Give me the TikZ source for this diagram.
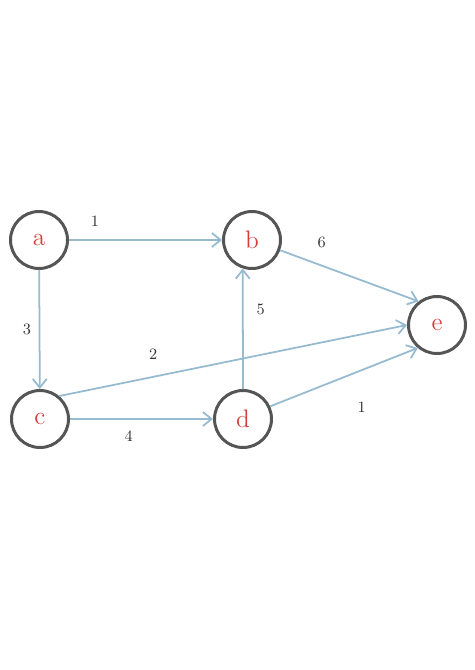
\documentclass[tikz,border=0pt]{standalone}
\usetikzlibrary{arrows.meta}
\definecolor{edgeblue}{RGB}{150,186,208}
\definecolor{ringgray}{RGB}{85,85,85}
\definecolor{lettered}{RGB}{215,60,60}
\definecolor{labelgray}{RGB}{50,50,50}
\tikzset{
  vertex/.style={draw=ringgray, line width=1.7pt, circle, minimum size=1.14cm, inner sep=0pt, text=lettered, font=\Large},
  edge/.style={draw=edgeblue, line width=1pt, -{Straight Barb[length=5pt,width=8pt]}},
  weight/.style={text=labelgray, font=\small}
}
\begin{document}
\begin{tikzpicture}[x=0.02cm, y=-0.02cm]
            \useasboundingbox (0,0) rectangle (474,670);
            % Nodes
            \node[vertex] (a) at (39,240) {a};
            \node[vertex] (b) at (252,240) {b};
            \node[vertex] (c) at (40,419) {c};
            \node[vertex] (d) at (243,419) {d};
            \node[vertex] (e) at (437,325) {e};

            % Arrows
            \draw[edge] (a) -- node[weight, pos=0.17, above=4pt] {1} (b);
            \draw[edge] (a) -- node[weight, left=1pt] {3} (c);
            \draw[edge] (c) -- node[weight, pos=0.41, below=3pt] {4} (d);
            \draw[edge] (d.north) -- node[weight, pos=0.66, right=4pt] {5} (b.252);
            \draw[edge] (c.50) -- node[weight, pos=0.27, above=6pt] {2} (e.west);
            \draw[edge] (b.340) -- node[weight, pos=0.3, above=6pt] {6} (e.128);
            \draw[edge] (d.25) -- node[weight, pos=0.62, below=14pt] {1} (e.230);

        \end{tikzpicture}
\end{document}
